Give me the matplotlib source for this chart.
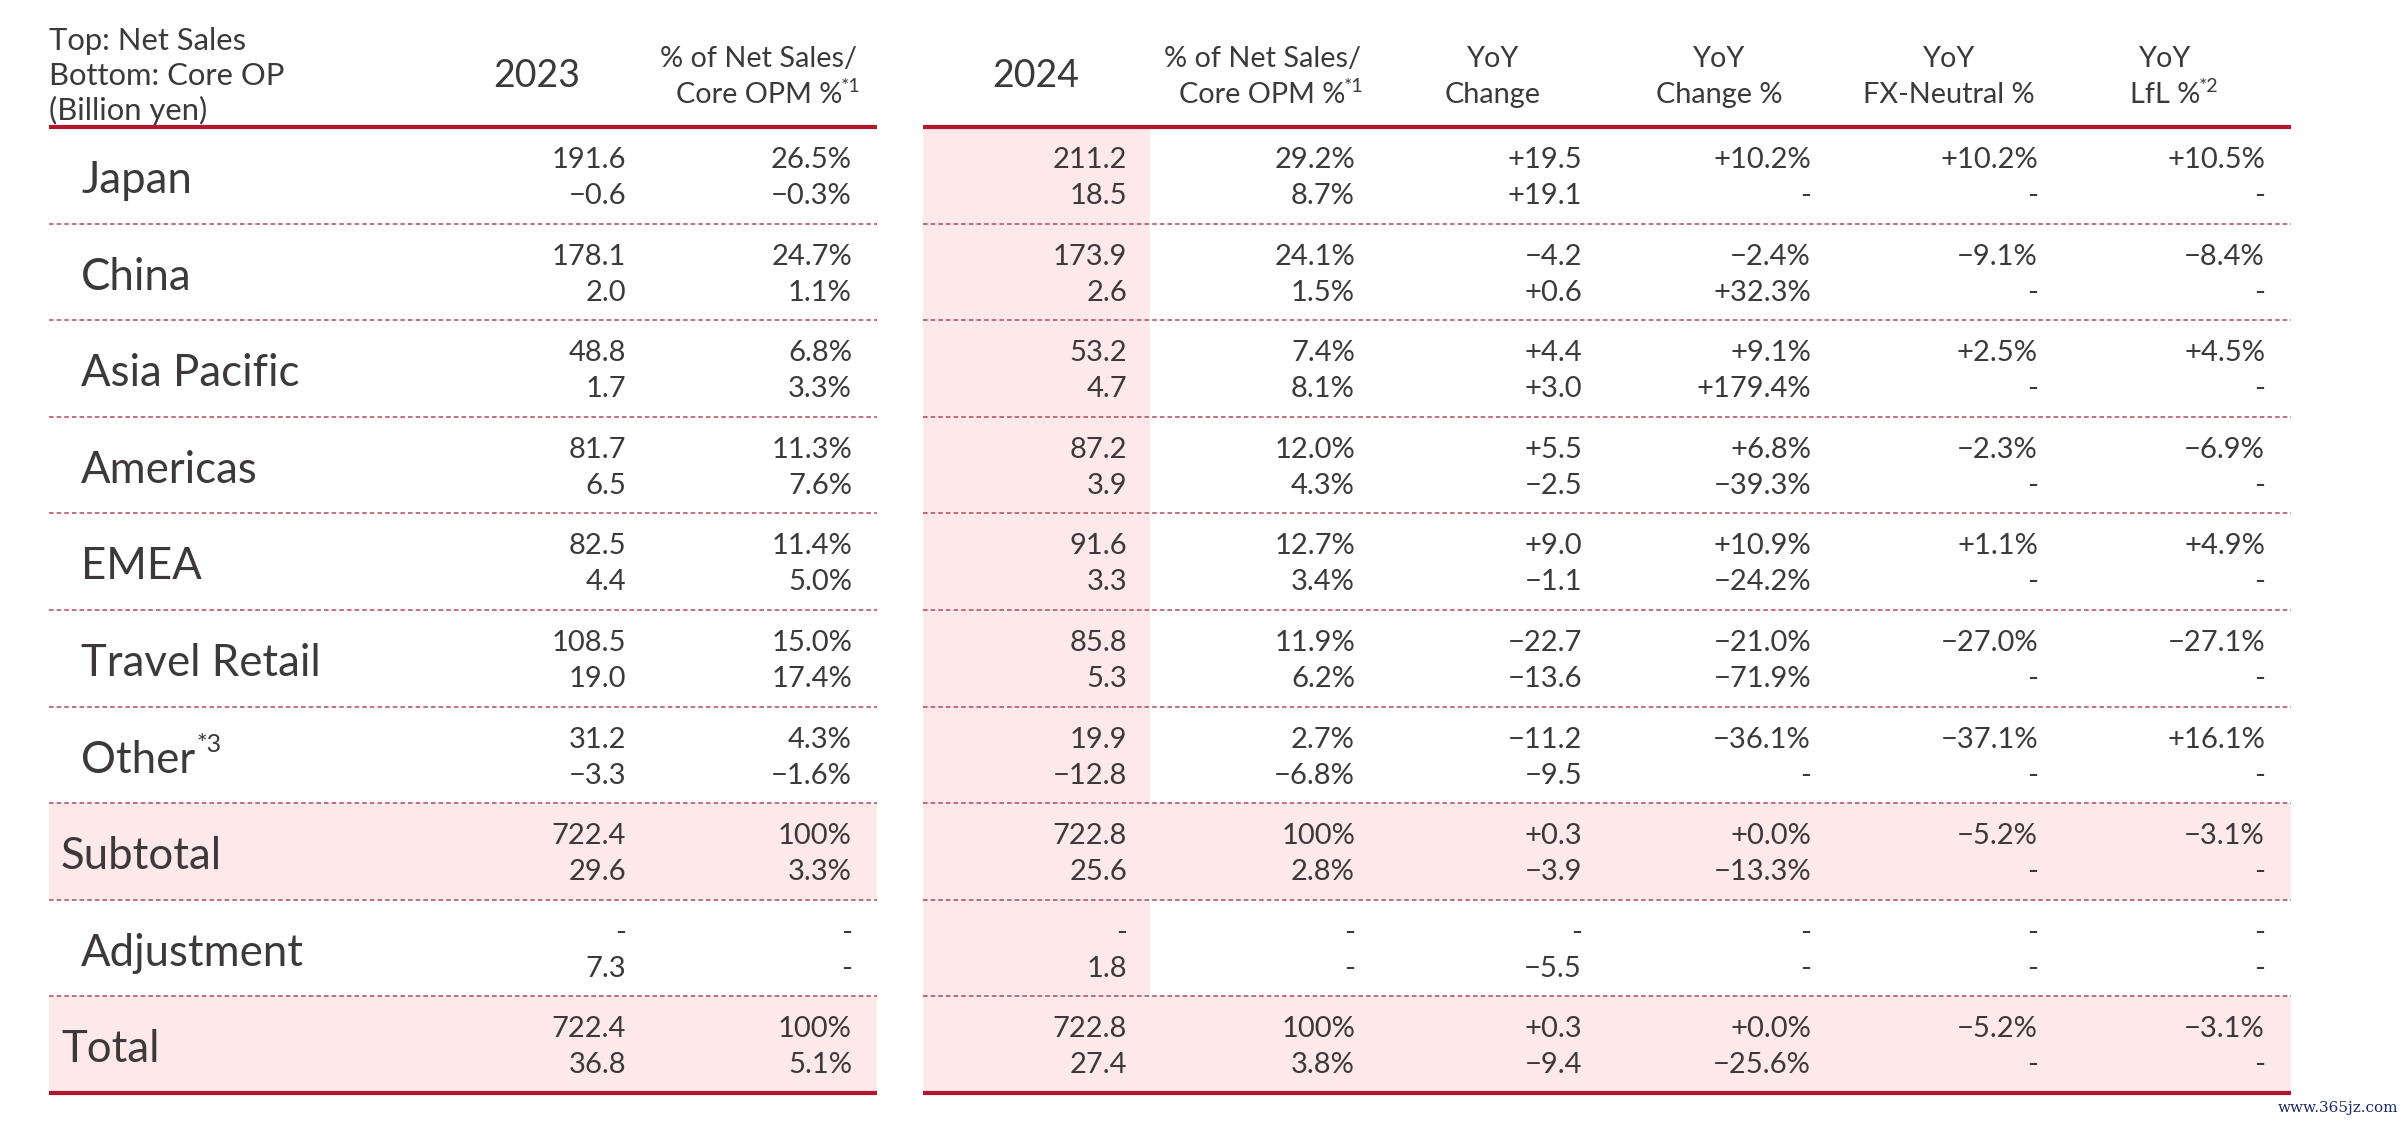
#!/usr/bin/env python3

# Regional net sales / core OP table, 2023 vs 2024
import matplotlib.pyplot as plt
from matplotlib.patches import Rectangle

plt.rcParams['font.family'] = ['Lato', 'DejaVu Sans']

# ---- data ----
regions      = ["Japan", "China", "Asia Pacific", "Americas", "EMEA",
                "Travel Retail", "Other", "Subtotal", "Adjustment", "Total"]
region_notes = ["", "", "", "", "", "", "*3", "", "", ""]
bold_rows    = ["Subtotal", "Total"]

# top line: net sales
sales_2023    = [191.6, 178.1, 48.8, 81.7, 82.5, 108.5, 31.2, 722.4, None, 722.4]
share_2023    = [26.5, 24.7, 6.8, 11.3, 11.4, 15.0, 4.3, 100, None, 100]
sales_2024    = [211.2, 173.9, 53.2, 87.2, 91.6, 85.8, 19.9, 722.8, None, 722.8]
share_2024    = [29.2, 24.1, 7.4, 12.0, 12.7, 11.9, 2.7, 100, None, 100]
sales_yoy     = [19.5, -4.2, 4.4, 5.5, 9.0, -22.7, -11.2, 0.3, None, 0.3]
sales_yoy_pct = [10.2, -2.4, 9.1, 6.8, 10.9, -21.0, -36.1, 0.0, None, 0.0]
sales_fx_pct  = [10.2, -9.1, 2.5, -2.3, 1.1, -27.0, -37.1, -5.2, None, -5.2]
sales_lfl_pct = [10.5, -8.4, 4.5, -6.9, 4.9, -27.1, 16.1, -3.1, None, -3.1]

# bottom line: core OP
op_2023    = [-0.6, 2.0, 1.7, 6.5, 4.4, 19.0, -3.3, 29.6, 7.3, 36.8]
opm_2023   = [-0.3, 1.1, 3.3, 7.6, 5.0, 17.4, -1.6, 3.3, None, 5.1]
op_2024    = [18.5, 2.6, 4.7, 3.9, 3.3, 5.3, -12.8, 25.6, 1.8, 27.4]
opm_2024   = [8.7, 1.5, 8.1, 4.3, 3.4, 6.2, -6.8, 2.8, None, 3.8]
op_yoy     = [19.1, 0.6, 3.0, -2.5, -1.1, -13.6, -9.5, -3.9, -5.5, -9.4]
op_yoy_pct = [None, 32.3, 179.4, -39.3, -24.2, -71.9, None, -13.3, None, -25.6]
op_fx_pct  = [None] * 10
op_lfl_pct = [None] * 10

# (first line, second line, footnote)
left_headers  = [("2023", "", ""), ("% of Net Sales/", "Core OPM %", "*1")]
right_headers = [("2024", "", ""), ("% of Net Sales/", "Core OPM %", "*1"),
                 ("YoY", "Change", ""), ("YoY", "Change %", ""),
                 ("YoY", "FX-Neutral %", ""), ("YoY", "LfL %", "*2")]
corner_lines = ["Top: Net Sales", "Bottom: Core OP", "(Billion yen)"]


# ---- formatting ----
def fmt_num(v):
    return "-" if v is None else f"{v:.1f}".replace("-", "\u2212")

def fmt_pct(v):
    if v is None:
        return "-"
    if v == 100:
        return "100%"
    return f"{v:.1f}%".replace("-", "\u2212")

def fmt_sgn(v):
    return "-" if v is None else f"{v:+.1f}".replace("-", "\u2212")

def fmt_sgn_pct(v):
    return "-" if v is None else f"{v:+.1f}%".replace("-", "\u2212")


# ---- layout ----
W, H = 2404, 1126
TXT = '#3d393a'
RED = '#b3162d'
PINK = '#fde8ea'
DASH = '#b24a5c'

L0, L1 = 49, 877        # left table span
R0, R1 = 923, 2291      # right table span
TOP = 127
ROW_H = 96.6
NUM_FS = 21
LAB_FS = 31.5
HDR_FS = 20.8
YEAR_FS = 27
CORNER_FS = 22.3

columns = [  # (right edge, header centre, top values, bottom values, top fmt, bottom fmt)
    (626, 537, sales_2023, op_2023, fmt_num, fmt_num),
    (852, 759, share_2023, opm_2023, fmt_pct, fmt_pct),
    (1127, 1036, sales_2024, op_2024, fmt_num, fmt_num),
    (1355, 1262, share_2024, opm_2024, fmt_pct, fmt_pct),
    (1582, 1493, sales_yoy, op_yoy, fmt_sgn, fmt_sgn),
    (1811, 1719, sales_yoy_pct, op_yoy_pct, fmt_sgn_pct, fmt_sgn_pct),
    (2038, 1949, sales_fx_pct, op_fx_pct, fmt_sgn_pct, fmt_sgn_pct),
    (2265, 2165, sales_lfl_pct, op_lfl_pct, fmt_sgn_pct, fmt_sgn_pct),
]

fig = plt.figure(figsize=(W / 100, H / 100), dpi=100)
ax = fig.add_axes([0, 0, 1, 1])
ax.set_xlim(0, W)
ax.set_ylim(H, 0)
ax.axis('off')

n = len(regions)
bottom = TOP + n * ROW_H

# backgrounds
ax.add_patch(Rectangle((R0, TOP), 1150 - R0, n * ROW_H, color=PINK, lw=0, zorder=0))
for i, name in enumerate(regions):
    if name in bold_rows:
        y = TOP + i * ROW_H
        ax.add_patch(Rectangle((L0, y), L1 - L0, ROW_H, color=PINK, lw=0, zorder=0))
        ax.add_patch(Rectangle((R0, y), R1 - R0, ROW_H, color=PINK, lw=0, zorder=0))

# rules
for x0, x1 in [(L0, L1), (R0, R1)]:
    ax.plot([x0, x1], [TOP, TOP], color=RED, lw=3, solid_capstyle='butt', zorder=3)
    ax.plot([x0, x1], [bottom, bottom], color=RED, lw=3, solid_capstyle='butt', zorder=3)
    for i in range(1, n):
        y = TOP + i * ROW_H
        ax.plot([x0, x1], [y, y], color=DASH, lw=1.1, dashes=(3, 2), zorder=2)

renderer = fig.canvas.get_renderer()

def right_of(t):
    # right edge of a text, in data coords
    bb = t.get_window_extent(renderer=renderer)
    return ax.transData.inverted().transform((bb.x1, bb.y1))[0]

# header
for k, line in enumerate(corner_lines):
    ax.text(L0, 50 + 35 * k, line, fontsize=CORNER_FS, color=TXT,
            ha='left', va='baseline')
hdrs = left_headers + right_headers
for (rx, cx, *_), (line1, line2, note) in zip(columns, hdrs):
    if not line2:
        ax.text(cx, 87, line1, fontsize=YEAR_FS, color=TXT, ha='center', va='baseline')
        continue
    ax.text(cx, 67, line1, fontsize=HDR_FS, color=TXT, ha='center', va='baseline')
    t = ax.text(cx, 103, line2, fontsize=HDR_FS, color=TXT, ha='center', va='baseline')
    if note:
        ax.text(right_of(t) - 1, 78, note, fontsize=14, color=TXT,
                ha='left', va='top')

# body
for i, name in enumerate(regions):
    y = TOP + i * ROW_H
    lx = 61 if name in bold_rows else 81
    t = ax.text(lx, y + 66, name, fontsize=LAB_FS, color=TXT,
                ha='left', va='baseline')
    if region_notes[i]:
        ax.text(right_of(t) + 1, y + 26, region_notes[i], fontsize=18, color=TXT,
                ha='left', va='top')
    for rx, cx, top_vals, bot_vals, ftop, fbot in columns:
        ax.text(rx, y + 41, ftop(top_vals[i]), fontsize=NUM_FS, color=TXT,
                ha='right', va='baseline')
        ax.text(rx, y + 77, fbot(bot_vals[i]), fontsize=NUM_FS, color=TXT,
                ha='right', va='baseline')

ax.text(2398, 1108, "www.365jz.com", fontsize=11, color='#1c2a66',
        family='DejaVu Serif', ha='right', va='center')

fig.savefig("out.png", dpi=100)
